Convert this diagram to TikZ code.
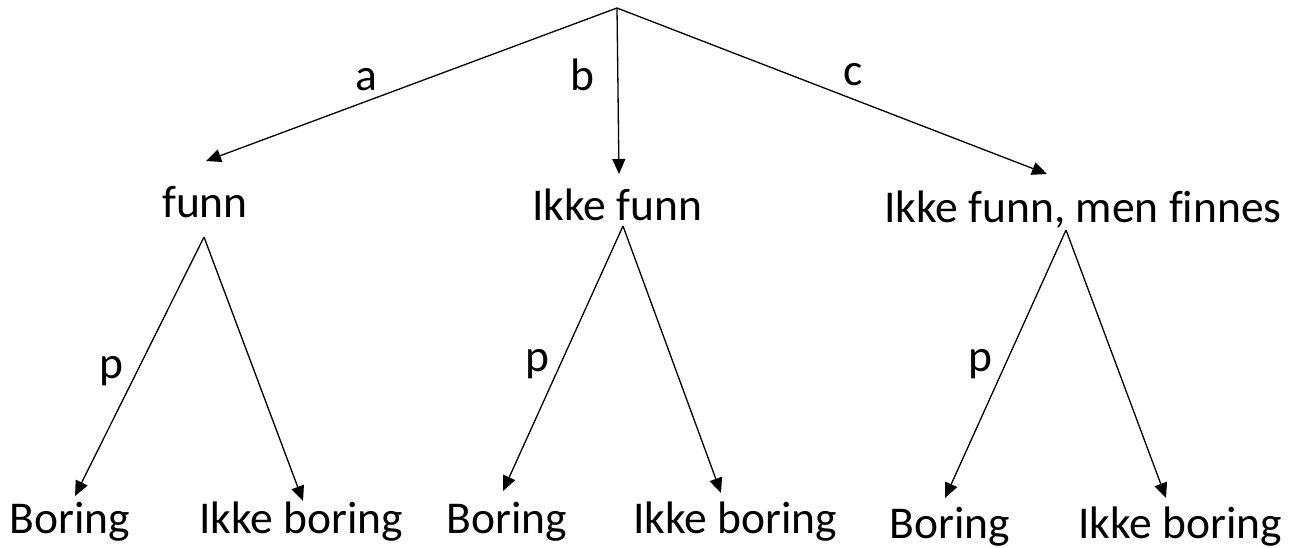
\documentclass[tikz,border=0pt]{standalone}
\usepackage{fontspec}
\setmainfont[Ligatures=NoCommon]{Carlito}
\usetikzlibrary{arrows.meta}
\begin{document}
\begin{tikzpicture}[x=1pt,y=-1pt,
  lbl/.style={anchor=base,inner sep=0pt,font=\fontsize{45.5}{54}\selectfont},
  edge/.style={line width=1.3pt,-{Triangle[length=15pt,width=13pt]}}]
\useasboundingbox (0,0) rectangle (1301,547);
% root and tips
\coordinate (root) at (617,8);
\coordinate (ta) at (206,161);
\coordinate (tb) at (619,174);
\coordinate (tc) at (1047,174);
% level-2 texts
\node[lbl] (funn) at (205,217) {funn};
\node[lbl] (ikkefunn) at (617,220) {Ikke funn};
\node[lbl] (finnes) at (1083,222) {Ikke funn, men finnes};
% apexes
\coordinate (pa) at (204,237);
\coordinate (pb) at (623,226);
\coordinate (pc) at (1066,230);
% leaf tips
\coordinate (a1) at (75,496);
\coordinate (a2) at (303,501);
\coordinate (b1) at (503,491);
\coordinate (b2) at (721,493);
\coordinate (c1) at (945,498);
\coordinate (c2) at (1166,498);
% leaves
\node[lbl] (la1) at (70,533) {Boring};
\node[lbl] (la2) at (301,533) {Ikke boring};
\node[lbl] (lb1) at (507,533) {Boring};
\node[lbl] (lb2) at (735,533) {Ikke boring};
\node[lbl] (lc1) at (950,538) {Boring};
\node[lbl] (lc2) at (1180,538) {Ikke boring};
% edges
\draw[edge] (root) -- (ta);
\draw[edge] (root) -- (tb);
\draw[edge] (root) -- (tc);
\draw[edge] (pa) -- (a1);
\draw[edge] (pa) -- (a2);
\draw[edge] (pb) -- (b1);
\draw[edge] (pb) -- (b2);
\draw[edge] (pc) -- (c1);
\draw[edge] (pc) -- (c2);
% edge labels
\node[lbl] (la) at (366,90) {a};
\node[lbl] (lb) at (582,90) {b};
\node[lbl] (lc) at (853,85) {c};
\node[lbl] (pA) at (111,378) {p};
\node[lbl] (pB) at (537,371) {p};
\node[lbl] (pC) at (980,371) {p};
\end{tikzpicture}
\end{document}
